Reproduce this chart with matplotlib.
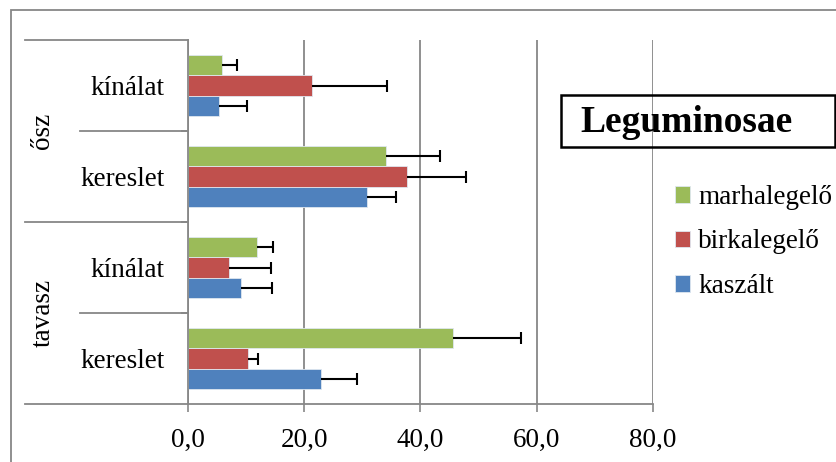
import numpy as np
import matplotlib.pyplot as plt
from matplotlib.patches import Rectangle
from matplotlib.lines import Line2D
import matplotlib.transforms as mtransforms

plt.rcParams['font.family'] = ['Liberation Serif', 'DejaVu Serif']

# data (bottom to top)
seasons = ["tavasz", "ősz"]
cats = ["kereslet", "kínálat", "kereslet", "kínálat"]
series = ["kaszált", "birkalegelő", "marhalegelő"]
kaszalt = [22.9, 9.2, 30.8, 5.3]
kaszalt_err = [6.2, 5.2, 5.0, 4.9]
birka = [10.3, 7.0, 37.6, 21.4]
birka_err = [1.7, 7.3, 10.2, 12.9]
marha = [45.6, 11.8, 34.0, 5.8]
marha_err = [11.7, 2.9, 9.4, 2.6]
xticks = [0, 20, 40, 60, 80]
xtick_labels = ["0,0", "20,0", "40,0", "60,0", "80,0"]
colors = ["#4F81BD", "#C0504D", "#9BBB59"]

W, H = 837, 462
fig = plt.figure(figsize=(W / 100, H / 100), dpi=100)

def fx(x):
    return x / W

def fy(y):
    return 1 - y / H

ax = fig.add_axes([fx(188), fy(404), fx(653) - fx(188), (404 - 40) / H])

y = np.arange(len(cats))
h = 0.22
vals = [kaszalt, birka, marha]
errs = [kaszalt_err, birka_err, marha_err]
bars = []
for i in range(3):
    yy = y + (i - 1) * h
    b = ax.barh(yy, vals[i], height=h, color=colors[i],
                edgecolor="#dfe7f0", linewidth=0.6, label=series[i])
    bars.append(b)
    ends = np.array(vals[i]) + np.array(errs[i])
    ax.hlines(yy, vals[i], ends, color="black", linewidth=1.5, zorder=3)
    ax.plot(ends, yy, linestyle="none", marker="|", markersize=8,
            markeredgewidth=1.5, color="black", zorder=3)

ax.set_xlim(0, 80)
ax.set_ylim(-0.5, 3.5)
ax.set_xticks(xticks)
ax.set_xticklabels(xtick_labels, fontsize=19.5)
ax.tick_params(axis='x', length=6, width=1.2, color="#878787", pad=11)
ax.set_yticks(y)
ax.set_yticklabels(cats, fontsize=19.5)
ax.tick_params(axis='y', length=0, pad=17)
ax.set_yticks([0.5, 1.5, 2.5], minor=True)
ax.tick_params(axis='y', which='minor', length=5, width=1.2, color="#878787")
ax.grid(axis='x', color="#878787", linewidth=1.3)
ax.set_axisbelow(True)
for s in ["top", "right"]:
    ax.spines[s].set_visible(False)
for s in ["left", "bottom"]:
    ax.spines[s].set_color("#878787")
    ax.spines[s].set_linewidth(1.3)

# hierarchical category axis
tr = mtransforms.blended_transform_factory(ax.transAxes, ax.transData)
x_outer = (25 - 188) / 465
x_inner = (80 - 188) / 465
for yy in [-0.5, 1.5, 3.5]:
    ax.add_line(Line2D([x_outer, 0], [yy, yy], transform=tr, color="#878787",
                       linewidth=1.3, clip_on=False))
for yy in [0.5, 2.5]:
    ax.add_line(Line2D([x_inner, 0], [yy, yy], transform=tr, color="#878787",
                       linewidth=1.3, clip_on=False))
for k, s in enumerate(seasons):
    ax.text((43 - 188) / 465, 2 * k + 0.5, s, transform=tr, rotation=90,
            ha="center", va="center", fontsize=19.5)

# outer chart border
fig.patches.append(Rectangle((fx(11), fy(470)), 1, fy(10) - fy(470),
                             transform=fig.transFigure, fill=False,
                             edgecolor="#878787", linewidth=1.3))

# legend title box
fig.patches.append(Rectangle((fx(561), fy(147)), fx(835) - fx(561), (147 - 95) / H,
                             transform=fig.transFigure, fill=False,
                             edgecolor="black", linewidth=1.8))
fig.text(fx(687), fy(122), "Leguminosae", ha="center", va="center",
         fontsize=27, fontweight="bold")

handles = bars[::-1]
fig.legend(handles, series[::-1], loc="upper left",
           bbox_to_anchor=(fx(675), fy(185)), frameon=False, fontsize=19.5,
           handlelength=0.55, handleheight=0.55, handletextpad=0.3,
           labelspacing=0.72, borderaxespad=0, borderpad=0)

fig.savefig("out.png", dpi=100)
